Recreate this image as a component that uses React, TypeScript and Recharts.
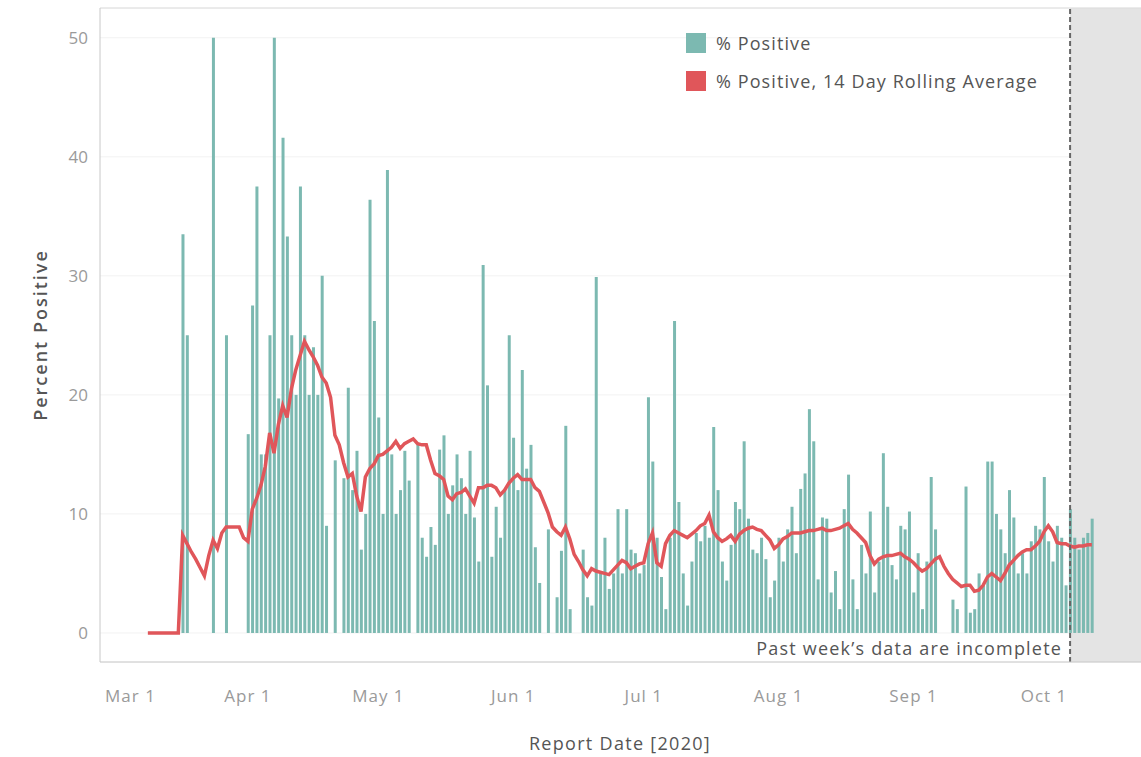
import React from 'react';
import {
  ComposedChart,
  Bar,
  Line,
  XAxis,
  YAxis,
  CartesianGrid,
  ReferenceArea,
  ReferenceLine,
  Legend,
} from 'recharts';

// x values are days after Mar 1, 2020
const FIRST_DAY = 8; // Mar 9
const INCOMPLETE_FROM = 220; // Oct 7 — start of "past week"
const X_DOMAIN: [number, number] = [-3, 236.3];
const Y_DOMAIN: [number, number] = [-2.44, 52.5];

const monthTicks = [0, 31, 61, 92, 122, 153, 184, 214];
const monthLabels = ['Mar 1', 'Apr 1', 'May 1', 'Jun 1', 'Jul 1', 'Aug 1', 'Sep 1', 'Oct 1'];
const yTicks = [0, 10, 20, 30, 40, 50];

// daily % positive, Mar 9 .. Oct 12
const positive = [
  0, 0, 0, 0, 0, 0, 0, 0,
  33.5, 25, 0, 0, 0, 0, 0, 50, 0, 0,
  25, 0, 0, 0, 0, 16.7, 27.5, 37.5, 15, 15,
  25, 50, 19.7, 41.6, 33.3, 25, 20, 37.5, 25, 20,
  24, 20, 30, 9, 0, 14.5, 0, 13, 20.6, 12,
  15.3, 7, 10, 36.4, 26.2, 18.1, 10, 38.9, 15, 10,
  12, 15.3, 12.8, 0, 15.8, 8, 6.4, 8.9, 7.4, 15.4,
  16.6, 10, 12.4, 15, 13, 10, 15.3, 9.7, 6, 30.9,
  20.8, 6.4, 10.6, 8, 12, 25, 16.4, 12, 22.1, 13.8,
  15.8, 7.2, 4.2, 0, 8.7, 0, 3, 6.9, 17.4, 2,
  0, 0, 7, 3, 2.3, 29.9, 5, 8, 3.7, 5,
  10.4, 5, 10.4, 7, 6.7, 5, 5.7, 19.8, 14.4, 8,
  4.7, 2, 8, 26.2, 11, 5, 2.3, 6, 8.4, 7.7,
  9, 8, 17.3, 12, 6, 4.4, 7.4, 11, 10.4, 16.1,
  9.6, 7, 6.7, 8, 6.2, 3, 4.4, 8, 6, 8.7,
  10.6, 6.7, 12.1, 13.4, 18.8, 16.1, 4.5, 9.7, 9.6, 3.4,
  5.2, 2, 10.4, 13.3, 4.5, 2, 7.4, 5, 10.2, 3.4,
  6, 15.1, 10.6, 5.7, 4.5, 9, 8.7, 10.2, 3.4, 6.7,
  2, 6, 13.1, 8.7, 0, 0, 0, 2.8, 2, 0,
  12.3, 1.7, 2, 5, 4, 14.4, 14.4, 10, 8.7, 6.7,
  12, 9.7, 5, 6.7, 5, 7.7, 9, 8.7, 13.1, 7.7,
  6, 9, 8, 4, 10.4, 8, 7, 8, 8.4, 9.6,
];

// 14 day rolling average, Mar 9 .. Oct 12
const rollingAvg = [
  0, 0, 0, 0, 0, 0, 0, 0,
  8.2, 7.5, 6.8, 6.2, 5.5, 4.8, 6.5, 7.8, 7.1, 8.4,
  8.9, 8.9, 8.9, 8.9, 8.0, 7.7, 10.4, 11.3, 12.4, 14,
  16.8, 15.1, 17.5, 19.1, 18.1, 20.5, 22.1, 23.3, 24.5, 23.8,
  23.2, 22.5, 21.5, 21, 19.8, 16.6, 15.8, 14.3, 13.1, 13.4,
  11.5, 10.2, 13.1, 13.8, 14.2, 14.9, 15, 15.3, 15.6, 16.1,
  15.5, 15.9, 16.1, 16.3, 15.9, 15.8, 15.8, 14.5, 13.4, 13.2,
  12.9, 11.5, 11.2, 11.7, 11.8, 12.1, 11.5, 10.9, 12.2, 12.2,
  12.4, 12.4, 12.2, 11.6, 12, 12.6, 13, 13.3, 12.9, 12.9,
  12.9, 12.2, 11.9, 11, 10.1, 8.9, 8.5, 8.2, 8.9, 7.9,
  6.6, 6, 5.3, 4.8, 5.4, 5.2, 5.1, 5, 4.9, 5.3,
  5.7, 6.1, 5.9, 5.4, 5.6, 5.8, 5.9, 7.5, 8.4, 5.9,
  5.6, 7.5, 8.2, 8.6, 8.4, 8.2, 8, 8.3, 8.6, 9,
  9.2, 9.9, 8.5, 8, 7.7, 7.9, 8.2, 7.7, 8.3, 8.6,
  8.8, 8.9, 8.7, 8.6, 8.2, 7.8, 7.1, 7.4, 7.9, 8.1,
  8.4, 8.4, 8.4, 8.5, 8.6, 8.6, 8.7, 8.8, 8.6, 8.6,
  8.7, 8.8, 9, 9.2, 8.7, 8.4, 8, 7.6, 6.5, 5.8,
  6.2, 6.4, 6.5, 6.5, 6.6, 6.7, 6.4, 6.2, 5.9, 5.5,
  5.2, 5.4, 5.8, 6.2, 6.4, 5.6, 5, 4.5, 4.2, 3.9,
  4, 4, 3.5, 3.6, 4, 4.7, 5, 4.7, 4.4, 5,
  5.7, 6.1, 6.5, 6.8, 7, 7, 7.3, 7.7, 8.5, 9,
  8.5, 7.6, 7.5, 7.5, 7.3, 7.2, 7.3, 7.3, 7.4, 7.4,
];

const TEAL = '#7cb9b1';
const RED = '#e0565a';
const FONT = '"Open Sans", sans-serif';

const data = positive.map((v, i) => ({
  day: FIRST_DAY + i,
  positive: v,
  avg: rollingAvg[i],
}));

function MonthTick(props: any) {
  const { x, payload, index } = props;
  const label = monthLabels[monthTicks.indexOf(payload.value)];
  const first = index === 0;
  return (
    <text
      x={first ? x - 8 : x}
      y={702}
      textAnchor={first ? 'start' : 'middle'}
      fill="#9a9a9a"
      fontSize={17}
      letterSpacing={1}
      fontFamily={FONT}
    >
      {label}
    </text>
  );
}

function ValueTick(props: any) {
  const { y, payload } = props;
  return (
    <text x={88} y={y + 6} textAnchor="end" fill="#9a9a9a" fontSize={17} fontFamily={FONT}>
      {payload.value}
    </text>
  );
}

function LegendBox() {
  const items = [
    { color: TEAL, label: '% Positive' },
    { color: RED, label: '% Positive, 14 Day Rolling Average' },
  ];
  return (
    <div style={{ fontFamily: FONT, fontSize: 18, letterSpacing: 1.1, color: '#555' }}>
      {items.map((it) => (
        <div key={it.label} style={{ display: 'flex', alignItems: 'center', height: 38 }}>
          <span style={{ width: 20, height: 20, background: it.color, marginRight: 10 }} />
          <span>{it.label}</span>
        </div>
      ))}
    </div>
  );
}

export default function App() {
  return (
    <div style={{ position: 'absolute', left: 0, top: 0, width: 1141, height: 757, background: '#fff' }}>
      <ComposedChart
        width={1141}
        height={757}
        data={data}
        margin={{ top: 8, right: 0, bottom: 0, left: 0 }}
      >
        <CartesianGrid vertical={false} stroke="#f2f2f2" />
        <ReferenceArea
          x1={INCOMPLETE_FROM}
          x2={X_DOMAIN[1]}
          fill="#e4e4e4"
          fillOpacity={1}
          stroke="none"
          ifOverflow="hidden"
        />
        <XAxis
          dataKey="day"
          type="number"
          domain={X_DOMAIN}
          allowDataOverflow
          ticks={monthTicks}
          tick={<MonthTick />}
          tickLine={false}
          axisLine={{ stroke: '#c8c8c8' }}
          height={95}
          label={{
            content: () => (
              <text
                x={620}
                y={750}
                textAnchor="middle"
                fill="#555"
                fontSize={18}
                letterSpacing={1.3}
                fontFamily={FONT}
              >
                Report Date [2020]
              </text>
            ),
          }}
        />
        <YAxis
          type="number"
          domain={Y_DOMAIN}
          allowDataOverflow
          ticks={yTicks}
          tick={<ValueTick />}
          tickLine={false}
          axisLine={{ stroke: '#c8c8c8' }}
          width={100}
          label={{
            content: () => (
              <text
                transform="translate(47,335) rotate(-90)"
                textAnchor="middle"
                fill="#555"
                fontSize={18}
                fontWeight={600}
                letterSpacing={2}
                fontFamily={FONT}
              >
                Percent Positive
              </text>
            ),
          }}
        />
        <ReferenceLine y={Y_DOMAIN[1]} stroke="#dcdcdc" />
        <Bar dataKey="positive" fill={TEAL} barSize={3} isAnimationActive={false} />
        <Line
          dataKey="avg"
          type="linear"
          stroke={RED}
          strokeWidth={3.5}
          dot={false}
          isAnimationActive={false}
        />
        <ReferenceLine
          x={INCOMPLETE_FROM}
          stroke="#666"
          strokeWidth={2}
          strokeDasharray="5 3"
          label={{
            content: (p: any) => (
              <text
                x={p.viewBox.x - 8}
                y={p.viewBox.y + p.viewBox.height - 7}
                textAnchor="end"
                fill="#555"
                fontSize={18}
                letterSpacing={1.2}
                fontFamily={FONT}
              >
                Past week’s data are incomplete
              </text>
            ),
          }}
        />
        <Legend
          layout="vertical"
          align="center"
          verticalAlign="middle"
          content={() => <LegendBox />}
          wrapperStyle={{ position: 'absolute', left: 686, top: 24, width: 'auto', height: 'auto' }}
        />
      </ComposedChart>
    </div>
  );
}
